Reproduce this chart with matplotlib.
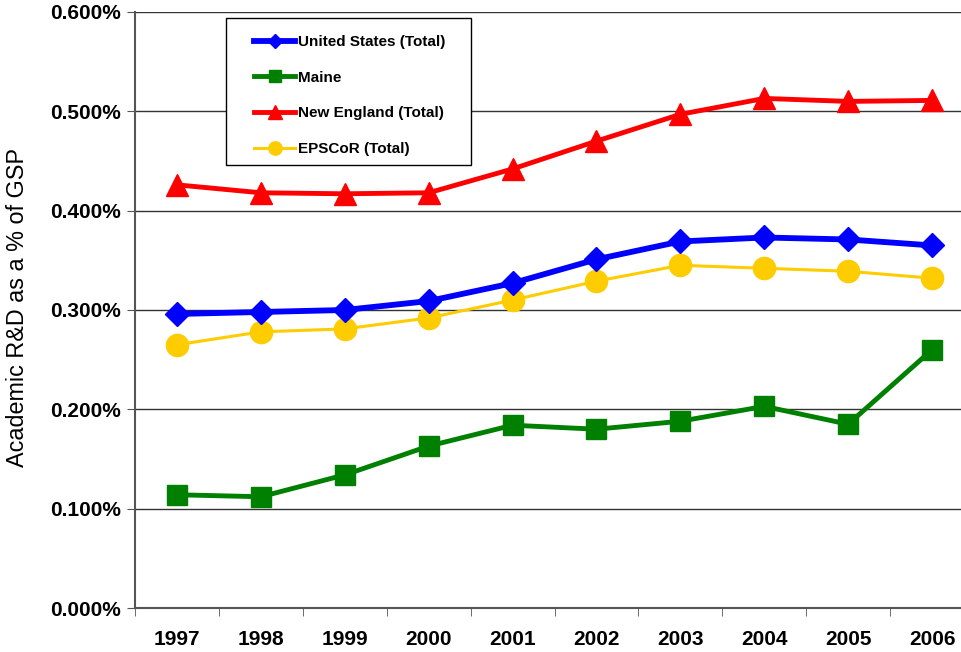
import numpy as np
import matplotlib.pyplot as plt
from matplotlib.ticker import FuncFormatter
from matplotlib.patches import Rectangle

plt.rcParams['font.family'] = ['Liberation Sans', 'DejaVu Sans']

anos = ['1997', '1998', '1999', '2000', '2001', '2002', '2003', '2004', '2005', '2006']
eua = [0.296, 0.298, 0.300, 0.309, 0.327, 0.351, 0.369, 0.373, 0.371, 0.365]
maine = [0.114, 0.112, 0.134, 0.163, 0.184, 0.180, 0.188, 0.203, 0.185, 0.260]
nova_inglaterra = [0.426, 0.418, 0.417, 0.418, 0.442, 0.470, 0.497, 0.513, 0.510, 0.511]
epscor = [0.265, 0.278, 0.281, 0.292, 0.310, 0.329, 0.345, 0.342, 0.339, 0.332]

W, H = 961, 652
fig = plt.figure(figsize=(W / 100, H / 100), dpi=100)
ax = fig.add_axes([135 / W, 44 / H, 839 / W, 596 / H])

x = np.arange(len(anos))
ax.plot(x, eua, color='#0000FF', lw=4.2, marker='D', ms=12, label='United States (Total)', zorder=5)
ax.plot(x, maine, color='#008000', lw=3.5, marker='s', ms=15, label='Maine', zorder=4)
ax.plot(x, nova_inglaterra, color='#FF0000', lw=3.5, marker='^', ms=16, label='New England (Total)', zorder=4)
ax.plot(x, epscor, color='#FFCC00', lw=2.2, marker='o', ms=16, label='EPSCoR (Total)', zorder=3)

ax.set_xlim(-0.5, 9.5)
ax.set_ylim(0, 0.6)
ax.set_yticks(np.arange(0, 0.61, 0.1))
ax.yaxis.set_major_formatter(FuncFormatter(lambda v, p: '%.3f%%' % v))
ax.set_xticks(x)
ax.set_xticklabels(anos)
ax.set_xticks(np.arange(-0.5, 10, 1), minor=True)
ax.tick_params(axis='x', which='major', length=0, pad=16)
ax.tick_params(axis='x', which='minor', length=6, color='#555555')
ax.tick_params(axis='y', length=6, color='#555555', pad=4)
for lab in ax.get_xticklabels() + ax.get_yticklabels():
    lab.set_fontsize(15)
    lab.set_fontweight('bold')

ax.grid(axis='y', color='#333333', lw=1)
ax.set_axisbelow(True)
ax.spines['top'].set_visible(False)
ax.spines['right'].set_visible(False)
for s in ['left', 'bottom']:
    ax.spines[s].set_color('#555555')
    ax.spines[s].set_linewidth(1.5)

ax.set_ylabel('Academic R&D as a % of GSP', fontsize=16.8)
ax.yaxis.set_label_coords(-106 / 839, 0.504)

# caixa da legenda
caixa = Rectangle((226 / W, 1 - 165 / H), 245 / W, 147 / H, transform=fig.transFigure,
                  facecolor='white', edgecolor='black', lw=1, zorder=6, clip_on=False)
ax.add_patch(caixa)

leg = ax.legend(loc='upper left', bbox_to_anchor=(254 / W, 1 - 35 / H), bbox_transform=fig.transFigure,
                frameon=False, borderpad=0, labelspacing=1.42,
                handlelength=2.7, handletextpad=0.15, markerscale=0.6, borderaxespad=0,
                prop={'weight': 'bold', 'size': 11})
leg.set_zorder(7)

fig.savefig('out.png', dpi=100)
